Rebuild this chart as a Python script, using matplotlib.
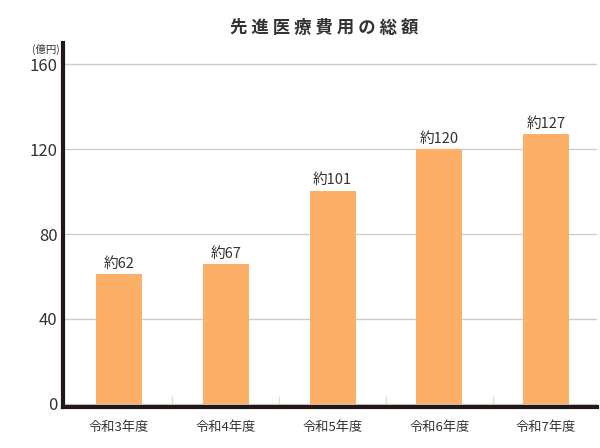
import matplotlib
matplotlib.use("Agg")
import matplotlib.pyplot as plt
import numpy as np

plt.rcParams["font.family"] = ["Noto Sans CJK JP", "DejaVu Sans"]

# --- Data ---
years = ["令和3年度", "令和4年度", "令和5年度", "令和6年度", "令和7年度"]
costs = [61, 66, 100.5, 120, 127]
labels = ["約62", "約67", "約101", "約120", "約127"]
yticks = [0, 40, 80, 120, 160]

bar_color = "#FDAF67"
dark = "#231815"

fig = plt.figure(figsize=(6, 4.48), dpi=100)
ax = fig.add_axes([0.105, 0.0915, 0.89, 0.8125])

x = np.arange(len(years))
bars = ax.bar(x, costs, width=0.43, color=bar_color, zorder=3)
for bar, lab in zip(bars, labels):
    ax.text(bar.get_x() + bar.get_width() / 2, bar.get_height() + 1.5, lab,
            ha="center", va="bottom", fontsize=10.5, color="#333333", zorder=4)

ax.set_xlim(-0.524, len(years) - 0.524)
ax.set_ylim(-1.5, 170)
ax.set_yticks(yticks)
ax.set_yticklabels([str(v) for v in yticks], fontsize=12, color="#333333")
ax.set_xticks(x)
ax.set_xticklabels(years, fontsize=9.5, color="#333333")
ax.tick_params(axis="both", length=0, pad=4)
ax.tick_params(axis="x", pad=10)

# boundary ticks between categories
ax.set_xticks(np.arange(0.5, len(years) - 0.5, 1), minor=True)
ax.tick_params(axis="x", which="minor", direction="in", length=8,
               color="#EBD9C8", width=0.8)

ax.grid(axis="y", color="#CCCCCC", linewidth=1, zorder=0)
for side in ["top", "right"]:
    ax.spines[side].set_visible(False)
ax.spines["left"].set_linewidth(3)
ax.spines["bottom"].set_linewidth(3)
ax.spines["left"].set_color(dark)
ax.spines["bottom"].set_color(dark)

fig.text(0.076, 0.889, "(億円)", fontsize=7.5, ha="center", va="center", color="#333333")
fig.text(0.54, 0.937, " ".join("先進医療費用の総額"), fontsize=12.5, fontweight="bold",
         ha="center", va="center", color="#333333")

fig.savefig("out.png", dpi=100)
